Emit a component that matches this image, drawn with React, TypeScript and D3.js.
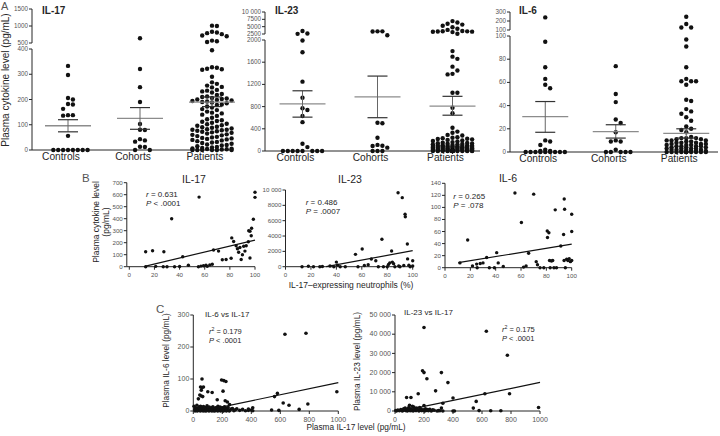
import React from 'react';
import * as d3 from 'd3';

const FONT = '"Liberation Sans", Arial, Helvetica, sans-serif';
const INK = '#262626';
const GREY = '#555';

// ---------- panel A: plasma cytokine level per group ----------
const groups = ['Controls', 'Cohorts', 'Patients'];

const il17Controls = [333, 297, 206, 200, 182, 180, 163, 138, 138, 136, 56, 0, 0, 0, 0, 0, 0, 0, 0];
const il17Cohorts = [640, 321, 249, 190, 103, 80, 79, 43, 38, 33, 13, 12, 0, 0];
const il17Patients = [
  1010, 1000, 830, 810, 790, 760, 720, 700, 570, 550, 530, 395,
  328, 326, 322, 320, 318, 290, 268, 262, 255, 250, 248,
  238, 235, 232, 228, 222, 218, 212, 210, 206, 204, 202, 200,
  198, 196, 194, 192, 190, 188, 185, 180, 178, 172, 168, 162, 158, 152,
  148, 145, 140, 135, 128, 122, 118, 115, 112, 108, 104, 102,
  98, 96, 92, 90, 88, 85, 82, 80, 80, 78, 76, 74, 72, 70, 68, 65, 62, 60, 58, 55, 52, 50,
  48, 46, 44, 42, 40, 38, 35, 32, 30, 28, 25, 22, 20,
  18, 15, 12, 10, 8, 6, 5, 4, 3, 2, 0, 0, 0, 0, 0, 0,
];
const il17Mean = [96, 125, 190];
const il17Hi = [120, 168, 210];
const il17Lo = [72, 82, 172];

const il23Controls = [3500, 2650, 2550, 1990, 1780, 1250, 960, 770, 740, 630, 520, 130, 70, 0, 0, 0, 0, 0, 0, 0, 0];
const il23Cohorts = [3400, 3400, 3350, 2400, 510, 500, 240, 110, 95, 90, 60, 0, 0, 0];
const il23Patients = [
  6900, 6400, 6000, 5700, 5300, 4800, 4300, 3900, 3500, 3450, 3400, 3350, 3300, 3250, 3150, 2600,
  1800, 1700, 1660, 1520, 1450, 1390, 1380, 1050, 1050, 780, 680,
  420, 350, 330, 290, 280, 250, 240, 230, 220, 215, 210, 200, 190, 180, 170, 160,
  150, 145, 140, 135, 130, 125, 120, 115, 110, 105, 100, 98, 95, 92, 90, 88, 85, 82, 80, 78,
  75, 72, 70, 68, 65, 62, 60, 58, 55, 52, 50, 48, 45, 42, 40, 38, 35, 32, 30, 28, 25, 22, 20,
  18, 15, 12, 10, 8, 5, 3, 0, 0, 0, 0, 0, 0, 0, 0, 0, 0, 0, 0, 0, 0, 0, 0, 0, 0, 0, 0,
];
const il23Mean = [850, 975, 810];
const il23Hi = [1085, 1350, 985];
const il23Lo = [610, 600, 645];

const il6Controls = [240, 95, 73, 63, 58, 55, 10, 9, 6, 2, 1, 1, 0, 0, 0, 0, 0, 0, 0, 0, 0];
const il6Cohorts = [74, 50, 43, 28, 25, 17, 10, 9, 9, 2, 0, 0, 0, 0, 0];
const il6Patients = [
  248, 167, 128, 128, 97, 91, 73, 63, 61, 61, 61, 58, 45, 44, 37, 35, 33, 30, 27, 22, 20, 19, 17,
  13, 12, 12, 12, 11, 11, 10, 10, 10, 9, 9, 8, 8, 8, 7, 7, 7, 6, 6, 6, 5, 5, 5, 5, 4, 4, 4,
  3, 3, 3, 3, 2, 2, 2, 2, 1, 1, 1, 1, 0, 0, 0, 0, 0, 0, 0, 0, 0, 0, 0, 0,
];
const il6Mean = [30.5, 17.5, 16];
const il6Hi = [43.5, 23.5, 20];
const il6Lo = [17, 12, 12];

// ---------- panel B: cytokine vs % IL-17 expressing neutrophils ----------
const bIl17 = [
  [13, 125], [18.5, 133], [27.5, 125], [33.7, 400], [55.5, 580], [13, 0], [21, 3], [27, 0], [30, 0],
  [36, 0], [40, 2], [42.5, 83], [47, 12], [55, 0], [57, 5], [59, 8], [61, 12], [62, 3], [64, 15],
  [66, 20], [67, 139], [71, 130], [74, 58], [77, 60], [81, 70], [81.5, 240], [83, 210], [85, 175],
  [86, 150], [87, 120], [88, 160], [89, 60], [90, 100], [91, 170], [92, 130], [93, 175], [94.7, 208],
  [95, 300], [96, 295], [96, 73], [97, 258], [97.3, 320], [98.7, 395], [100, 578], [100, 620],
];
const bIl23 = [
  [13, 0], [18, 50], [22, 0], [27, 0], [29, 30], [35, 100], [38, 0], [40, 600], [41, 200], [43, 0],
  [47, 0], [55, 1610], [57, 0], [60.3, 2300], [62, 150], [65, 250], [67.5, 1000], [71, 780], [73, 0],
  [75.8, 3570], [77, 0], [80, 0], [81, 300], [82, 500], [83.4, 2050], [84, 600], [85, 400], [86, 0],
  [88.5, 9650], [89, 100], [90, 0], [91.8, 9000], [93, 150], [94, 6830], [94.2, 6520], [95.8, 2960],
  [96, 1020], [97, 200], [98, 0], [100, 780], [100, 100],
];
const bIl6 = [
  [11.8, 8], [17.9, 46], [21.7, 3], [25, 6], [25.4, 0], [27.8, 7], [30, 8], [32.9, 17], [35, 0],
  [39, 0], [40.8, 25], [42, 8], [46, 2], [55.2, 124], [60.3, 75], [62, 1], [64, 3], [66, 24],
  [70, 122], [72, 10], [73, 5], [75, 0], [78, 0], [80.7, 61], [80.9, 50], [82, 58], [82.5, 12],
  [83, 0], [84, 11], [85, 12], [86, 0], [87, 96], [88, 0], [91.4, 36], [93.6, 55], [94, 12],
  [94.1, 114], [94.4, 97], [95, 0], [96, 14], [97, 12], [98, 15], [99, 10], [100, 88.6], [100, 60], [100, 12],
];
// regression fits: [slope, intercept, xStart, xEnd]
const bFits = [[2.49, -27, 13, 100], [30.5, -963, 32, 100], [0.343, 4.7, 10.5, 100]];
const bStats = [['0.631', '< .0001'], ['0.486', '= .0007'], ['0.265', '= .078']];

// ---------- panel C: IL-6 / IL-23 vs IL-17 ----------
const cIl6 = [
  [632, 240], [777, 243], [60, 100], [195, 97], [210, 95], [225, 92], [50, 75], [60, 73], [70, 75],
  [55, 65], [45, 50], [55, 47], [65, 45], [100, 60], [130, 58], [205, 62], [35, 38], [165, 35],
  [220, 32], [235, 28], [250, 20], [560, 45], [580, 55], [990, 60], [620, 25], [660, 18], [790, 22],
  [730, 5], [540, 3], [590, 2], [400, 3], [410, 10], [380, 2],
  [5, 15], [10, 5], [15, 10], [20, 2], [25, 18], [30, 8], [35, 3], [40, 12], [45, 6], [50, 15],
  [55, 2], [60, 9], [65, 4], [70, 14], [75, 7], [80, 1], [85, 11], [90, 5], [95, 16], [100, 3],
  [105, 8], [110, 12], [115, 2], [120, 6], [125, 10], [130, 4], [135, 13], [140, 1], [145, 7],
  [150, 9], [155, 3], [160, 11], [165, 5], [170, 15], [175, 2], [180, 8], [185, 12], [190, 4],
  [195, 6], [200, 10], [205, 1], [210, 7], [215, 13], [220, 3], [225, 9], [230, 5], [240, 11],
  [250, 2], [260, 6], [270, 8], [280, 1], [290, 4], [300, 7], [320, 2], [340, 5], [360, 1], [380, 6],
  [410, 1], [12, 0], [28, 0], [48, 0], [68, 0], [88, 0], [108, 0], [128, 0], [148, 0], [168, 0],
  [188, 0], [208, 0], [228, 0], [248, 0],
];
const cIl23 = [
  [200, 43500], [630, 41500], [775, 29000], [190, 21000], [200, 20000], [320, 20000], [220, 16800],
  [365, 14800], [280, 10500], [160, 9000], [560, 5000], [620, 9000], [790, 9000], [400, 6800],
  [80, 7000], [110, 7000], [330, 4000], [540, 1500], [990, 1800], [580, 200], [660, 100], [730, 100],
  [400, 0], [410, 0], [100, 3000], [120, 2500], [130, 2000], [150, 1500], [170, 1800], [200, 2800],
  [210, 1200], [240, 900], [260, 600], [300, 200], [320, 1500],
  [5, 200], [10, 0], [20, 500], [30, 100], [40, 800], [50, 0], [55, 300], [60, 1200], [65, 600],
  [70, 1500], [75, 200], [80, 900], [85, 0], [90, 400], [95, 1800], [100, 700], [105, 100],
  [110, 1100], [115, 300], [125, 0], [135, 500], [140, 1300], [145, 200], [155, 800], [165, 0],
  [175, 400], [180, 1000], [185, 200], [195, 600], [205, 0], [215, 300], [225, 700], [230, 100],
  [250, 0], [270, 400], [290, 0], [310, 100], [330, 0],
];
const cFits = [[0.0944, -5.9, 60, 1000], [15.6, -730, 50, 1000]];
const cStats = [['0.179', '< .0001'], ['0.175', '< .0001']];

function fmt(d: number) {
  return d >= 10000 ? d3.format(',')(d).replace(/,/g, ' ') : String(Math.round(d));
}

// simple beeswarm, overlapping once the column gets too wide
function swarm(values: number[], y: (v: number) => number, cx: number, r: number, maxHalf: number) {
  const placed: { x: number; y: number }[] = [];
  const step = r * 2 + 0.5;
  const n = Math.floor(maxHalf / step);
  [...values].sort((a, b) => b - a).forEach(v => {
    const py = y(v);
    let best = cx;
    let bestD = -1;
    for (let k = 0; k <= 2 * n; k++) {
      const px = cx + (k % 2 === 1 ? 1 : -1) * Math.ceil(k / 2) * step;
      let minD = Infinity;
      placed.forEach(p => {
        const d = Math.hypot(p.x - px, p.y - py);
        if (d < minD) minD = d;
      });
      if (minD >= step - 0.1) { best = px; break; }
      if (minD > bestD) { bestD = minD; best = px; }
    }
    placed.push({ x: best, y: py });
  });
  return placed;
}

function DotPanel(props: any) {
  const { title, titleX, left, right, step, y, segments, ticks, sets, mean, hi, lo } = props;
  const x = d3.scaleBand().domain(groups).range([left, left + 3 * step]);
  const base = y(0);
  return (
    <g>
      {segments.map((s: number[], i: number) => (
        <line key={i} x1={left} x2={left} y1={y(s[0])} y2={y(s[1])} stroke={INK} />
      ))}
      {ticks.map((t: number, i: number) => (
        <g key={i} transform={`translate(${left},${y(t)})`}>
          <line x1={-3} x2={0} stroke={INK} />
          <text x={-4} dy="0.32em" textAnchor="end" fontSize={6.3} fill={GREY}>{fmt(t)}</text>
        </g>
      ))}
      <line x1={left} x2={right} y1={base} y2={base} stroke={INK} />
      {groups.map((g, i) => {
        const cx = (x(g) as number) + x.bandwidth() / 2;
        const pts = swarm(sets[i], y, cx, 2.2, 24);
        return (
          <g key={g}>
            {pts.map((p, j) => <circle key={j} cx={p.x} cy={p.y} r={2.2} fill="#111" />)}
            <line x1={cx - 23} x2={cx + 23} y1={y(mean[i])} y2={y(mean[i])} stroke="#8c8c8c" strokeWidth={1.3} />
            <line x1={cx} x2={cx} y1={y(lo[i])} y2={y(hi[i])} stroke="#666" />
            <line x1={cx - 10} x2={cx + 10} y1={y(lo[i])} y2={y(lo[i])} stroke="#333" strokeWidth={1.2} />
            <line x1={cx - 10} x2={cx + 10} y1={y(hi[i])} y2={y(hi[i])} stroke="#333" strokeWidth={1.2} />
            <text x={cx - 7} y={base + 10} textAnchor="middle" fontSize={10.2} fill={INK}>{g}</text>
          </g>
        );
      })}
      <text x={titleX} y={14} fontSize={10} fontWeight="bold" fill={INK}>{title}</text>
    </g>
  );
}

function ScatterPanel(props: any) {
  const { x, y, xTicks, yTicks, pts, fit, r, tick, title, tx, ty, tfont, stat, sx, sy, sfont, sq } = props;
  const [x0, x1] = x.range();
  const [y0, y1] = y.range();
  const line = d3.line<number>().x(v => x(v)).y(v => y(fit[0] * v + fit[1]));
  return (
    <g>
      <line x1={x0} x2={x0} y1={y0} y2={y1} stroke={INK} />
      <line x1={x0} x2={x1} y1={y0} y2={y0} stroke={INK} />
      {yTicks.map((t: number) => (
        <g key={'y' + t} transform={`translate(${x0},${y(t)})`}>
          <line x1={-3} x2={0} stroke={INK} />
          <text x={-4} dy="0.32em" textAnchor="end" fontSize={tick} fill={GREY}>{fmt(t)}</text>
        </g>
      ))}
      {xTicks.map((t: number) => (
        <g key={'x' + t} transform={`translate(${x(t)},${y0})`}>
          <line y1={0} y2={3} stroke={INK} />
          <text y={4 + tick} textAnchor="middle" fontSize={tick} fill={GREY}>{t}</text>
        </g>
      ))}
      {pts.map((p: number[], i: number) => (
        <circle key={i} cx={x(p[0])} cy={y(p[1])} r={r} fill="#111" />
      ))}
      <path d={line([fit[2], fit[3]]) || ''} stroke="#111" strokeWidth={1.2} fill="none" />
      <text x={tx} y={ty} textAnchor={sq ? 'start' : 'middle'} fontSize={tfont} fill={INK}>{title}</text>
      <text x={sx} y={sy} fontSize={sfont} fill={INK}>
        <tspan fontStyle="italic">r</tspan>
        {sq ? <tspan dy={-3} fontSize={sfont * 0.7}>2</tspan> : null}
        <tspan dy={sq ? 3 : 0}>{' = ' + stat[0]}</tspan>
      </text>
      <text x={sx} y={sy + 9} fontSize={sfont} fill={INK}>
        <tspan fontStyle="italic">P</tspan>{' ' + stat[1]}
      </text>
    </g>
  );
}

export default function App() {
  // panel A scales (broken axes as polylinear scales)
  const a17 = d3.scaleLinear().domain([0, 400, 500, 1500]).range([150, 49, 43, 9]);
  const a23 = d3.scaleLinear().domain([0, 2000, 2500, 10000]).range([151, 40, 34, 12]);
  const a6 = d3.scaleLinear().domain([0, 100, 100.01, 300]).range([152, 36, 30, 12]);

  const pct = [0, 20, 40, 60, 80, 100];
  const b17x = d3.scaleLinear().domain([-2, 100]).range([126.8, 255]);
  const b17y = d3.scaleLinear().domain([0, 700]).range([266.7, 182.7]);
  const b23x = d3.scaleLinear().domain([0, 100]).range([285.5, 412.7]);
  const b23y = d3.scaleLinear().domain([0, 10000]).range([266.7, 190]);
  const b6x = d3.scaleLinear().domain([0, 100]).range([445, 571.7]);
  const b6y = d3.scaleLinear().domain([0, 140]).range([267.7, 183.3]);

  const lvl = [0, 200, 400, 600, 800, 1000];
  const c6x = d3.scaleLinear().domain([0, 1000]).range([193.3, 338.3]);
  const c6y = d3.scaleLinear().domain([0, 300]).range([411, 315]);
  const c23x = d3.scaleLinear().domain([0, 1000]).range([395, 540]);
  const c23y = d3.scaleLinear().domain([0, 50000]).range([411, 315]);

  return (
    <svg width={720} height={436} fontFamily={FONT}
      style={{ position: 'absolute', left: 0, top: 0, background: '#fff' }}>
      {/* A */}
      <text x={1} y={10} fontSize={11} fill={GREY}>A</text>
      <text transform="translate(9,80) rotate(-90)" textAnchor="middle" fontSize={10} fill={INK}>
        Plasma cytokine level (pg/mL)
      </text>
      <DotPanel title="IL-17" titleX={42} left={32} right={232} step={72} y={a17}
        segments={[[0, 400], [500, 1500]]} ticks={[0, 100, 200, 300, 400, 500, 1000, 1500]}
        sets={[il17Controls, il17Cohorts, il17Patients]} mean={il17Mean} hi={il17Hi} lo={il17Lo} />
      <DotPanel title="IL-23" titleX={275} left={265} right={480} step={75} y={a23}
        segments={[[0, 2000], [2500, 10000]]}
        ticks={[0, 400, 800, 1200, 1600, 2000, 2500, 5000, 7500, 10000]}
        sets={[il23Controls, il23Cohorts, il23Patients]} mean={il23Mean} hi={il23Hi} lo={il23Lo} />
      <DotPanel title="IL-6" titleX={519} left={510} right={718} step={70.5} y={a6}
        segments={[[0, 100], [100.01, 300]]} ticks={[0, 20, 40, 60, 80, 100, 100.01, 200, 300]}
        sets={[il6Controls, il6Cohorts, il6Patients]} mean={il6Mean} hi={il6Hi} lo={il6Lo} />

      {/* B */}
      <text x={82} y={182} fontSize={11.5} fill={GREY}>B</text>
      <text transform="translate(98.5,222) rotate(-90)" textAnchor="middle" fontSize={8.5} fill={INK}>
        Plasma cytokine level
      </text>
      <text transform="translate(108.5,222) rotate(-90)" textAnchor="middle" fontSize={8.5} fill={INK}>
        (pg/mL)
      </text>
      <ScatterPanel x={b17x} y={b17y} xTicks={pct} yTicks={[0, 100, 200, 300, 400, 500, 600, 700]}
        pts={bIl17} fit={bFits[0]} r={1.7} tick={6.2} title="IL-17" tx={194} ty={183} tfont={10.5}
        stat={bStats[0]} sx={146} sy={197.3} sfont={8} />
      <ScatterPanel x={b23x} y={b23y} xTicks={pct} yTicks={[0, 2000, 4000, 6000, 8000, 10000]}
        pts={bIl23} fit={bFits[1]} r={1.7} tick={6.2} title="IL-23" tx={350} ty={183} tfont={10.5}
        stat={bStats[1]} sx={305.7} sy={205.3} sfont={8} />
      <ScatterPanel x={b6x} y={b6y} xTicks={pct} yTicks={[0, 20, 40, 60, 80, 100, 120, 140]}
        pts={bIl6} fit={bFits[2]} r={1.7} tick={6.2} title="IL-6" tx={508} ty={182} tfont={10.5}
        stat={bStats[2]} sx={453.3} sy={198.7} sfont={8} />
      <text x={351} y={288} textAnchor="middle" fontSize={8.5} fill={INK}>
        IL-17–expressing neutrophils (%)
      </text>

      {/* C */}
      <text x={156} y={313} fontSize={11.5} fill={GREY}>C</text>
      <text transform="translate(169,360.5) rotate(-90)" textAnchor="middle" fontSize={8.3} fill={INK}>
        Plasma IL-6 level (pg/mL)
      </text>
      <text transform="translate(360,361.5) rotate(-90)" textAnchor="middle" fontSize={8.3} fill={INK}>
        Plasma IL-23 level (pg/mL)
      </text>
      <ScatterPanel x={c6x} y={c6y} xTicks={lvl} yTicks={[0, 100, 200, 300]}
        pts={cIl6} fit={cFits[0]} r={1.8} tick={7} title="IL-6 vs IL-17" tx={205} ty={316.5} tfont={8}
        stat={cStats[0]} sx={209} sy={334.3} sfont={7.5} sq />
      <ScatterPanel x={c23x} y={c23y} xTicks={lvl} yTicks={[0, 10000, 20000, 30000, 40000, 50000]}
        pts={cIl23} fit={cFits[1]} r={1.8} tick={7} title="IL-23 vs IL-17" tx={404} ty={315} tfont={8}
        stat={cStats[1]} sx={502} sy={332.3} sfont={7.5} sq />
      <text x={356} y={430} textAnchor="middle" fontSize={8.3} fill={INK}>
        Plasma IL-17 level (pg/mL)
      </text>
    </svg>
  );
}
